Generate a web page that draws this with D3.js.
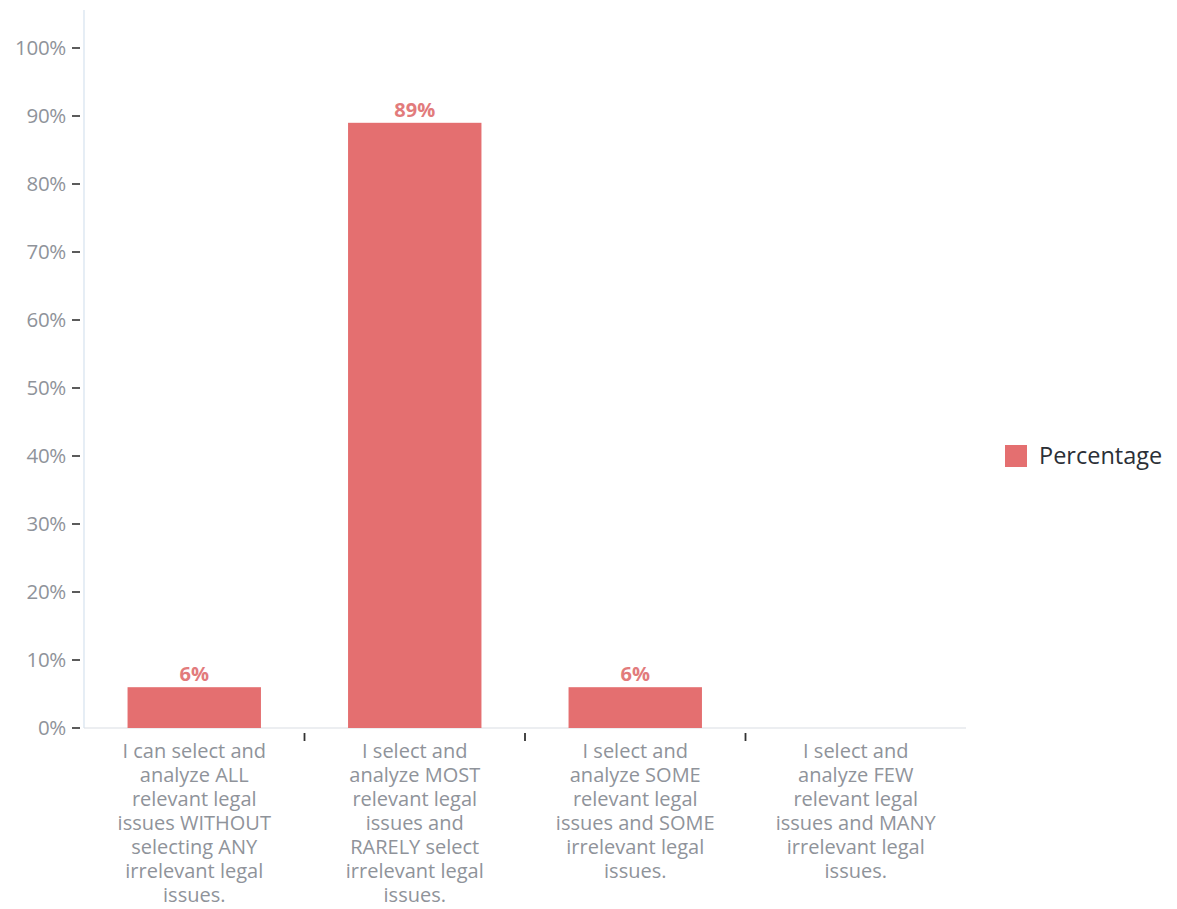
<!DOCTYPE html>
<html>
<head>
<meta charset="utf-8">
<script src="https://cdn.jsdelivr.net/npm/d3@7"></script>
<style>
  html, body { margin: 0; padding: 0; background: #fff; }
  svg { display: block; }
  text { font-family: "Open Sans", "Noto Sans", sans-serif; }
</style>
</head>
<body>
<svg id="chart" width="1177" height="909"></svg>
<script>
// Response categories (each label split into its wrapped lines)
const categories = [
  ["I can select and", "analyze ALL", "relevant legal", "issues WITHOUT", "selecting ANY", "irrelevant legal", "issues."],
  ["I select and", "analyze MOST", "relevant legal", "issues and", "RARELY select", "irrelevant legal", "issues."],
  ["I select and", "analyze SOME", "relevant legal", "issues and SOME", "irrelevant legal", "issues."],
  ["I select and", "analyze FEW", "relevant legal", "issues and MANY", "irrelevant legal", "issues."]
];
const percentages = [6, 89, 6, 0];
const yTicks = [0, 10, 20, 30, 40, 50, 60, 70, 80, 90, 100];
const seriesName = "Percentage";

const barColor = "#e46f70";
const labelColor = "#e27b7c";
const tickText = "#8f939a";

const svg = d3.select("#chart");
const plotLeft = 84, plotRight = 966, plotTop = 48, plotBottom = 728;

const rows = percentages.map((v, i) => ({ key: "c" + i, value: v, lines: categories[i] }));

const x = d3.scaleBand().domain(rows.map(r => r.key)).range([plotLeft, plotRight])
  .paddingInner(0.395).paddingOuter(0.1975);
const y = d3.scaleLinear().domain([0, 100]).range([plotBottom, plotTop]);

// Vertical axis line
svg.append("line")
  .attr("x1", plotLeft).attr("x2", plotLeft).attr("y1", 10).attr("y2", plotBottom)
  .attr("stroke", "#d6e2ee").attr("stroke-width", 1.2);

// Baseline
svg.append("line")
  .attr("x1", plotLeft).attr("x2", plotRight).attr("y1", plotBottom).attr("y2", plotBottom)
  .attr("stroke", "#d9dde3").attr("stroke-width", 1.2);

// Y ticks and labels
const yt = svg.append("g").selectAll("g").data(yTicks).join("g")
  .attr("transform", d => `translate(0,${y(d)})`);
yt.append("line").attr("x1", 72).attr("x2", 80)
  .attr("stroke", "#333").attr("stroke-width", 1.6);
yt.append("text").attr("x", 66).attr("dy", "0.35em")
  .attr("text-anchor", "end").attr("fill", tickText)
  .attr("font-size", 20.5).attr("letter-spacing", -0.3).text(d => d + "%");

// X ticks between categories
const gap = x.step() - x.bandwidth();
const tickXs = rows.slice(1).map(r => x(r.key) - gap / 2);
svg.append("g").selectAll("line").data(tickXs).join("line")
  .attr("x1", d => d).attr("x2", d => d)
  .attr("y1", plotBottom + 5).attr("y2", plotBottom + 13)
  .attr("stroke", "#333").attr("stroke-width", 1.8);

// Bars
svg.append("g").selectAll("rect").data(rows).join("rect")
  .attr("x", d => x(d.key))
  .attr("y", d => y(d.value))
  .attr("width", x.bandwidth())
  .attr("height", d => y(0) - y(d.value))
  .attr("fill", barColor);

// Value labels
svg.append("g").selectAll("text").data(rows.filter(r => r.value > 0)).join("text")
  .attr("x", d => x(d.key) + x.bandwidth() / 2)
  .attr("y", d => y(d.value) - 6)
  .attr("text-anchor", "middle").attr("fill", labelColor)
  .attr("font-size", 20).attr("font-weight", 700)
  .text(d => d.value + "%");

// Category labels
const cl = svg.append("g").selectAll("text").data(rows).join("text")
  .attr("x", d => x(d.key) + x.bandwidth() / 2)
  .attr("y", 758)
  .attr("text-anchor", "middle").attr("fill", tickText)
  .attr("font-size", 20);
cl.each(function (d) {
  const t = d3.select(this);
  const cx = x(d.key) + x.bandwidth() / 2;
  t.selectAll("tspan").data(d.lines).join("tspan")
    .attr("x", cx)
    .attr("dy", (s, i) => i === 0 ? 0 : 24)
    .text(s => s);
});

// Legend
const lg = svg.append("g").attr("transform", "translate(1005,445)");
lg.append("rect").attr("width", 22).attr("height", 22).attr("fill", barColor);
lg.append("text").attr("x", 34).attr("y", 11).attr("dy", "0.35em")
  .attr("fill", "#2b2f36").attr("font-size", 23.5).text(seriesName);
</script>
</body>
</html>
